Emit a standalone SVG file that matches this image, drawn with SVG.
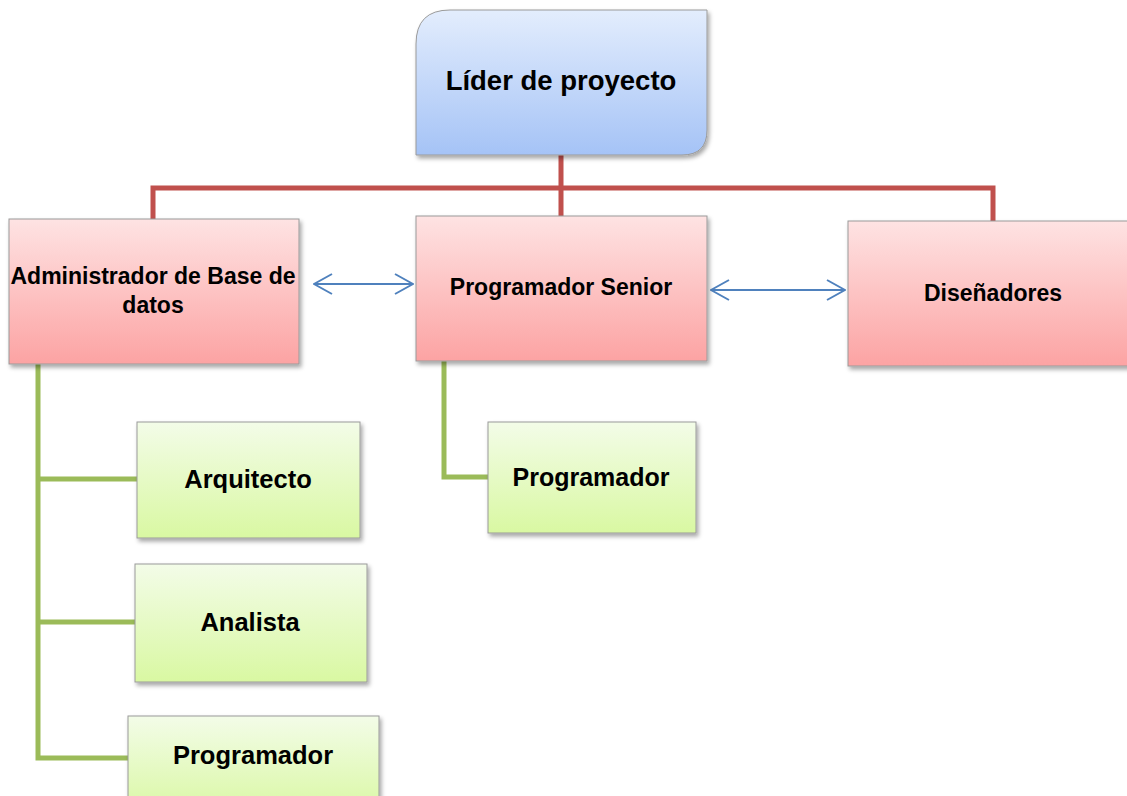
<svg xmlns="http://www.w3.org/2000/svg" width="1127" height="796" viewBox="0 0 1127 796">
<defs>
<linearGradient id="gBlue" x1="0" y1="0" x2="0" y2="1"><stop offset="0" stop-color="#e3edfd"/><stop offset="1" stop-color="#a5c3f6"/></linearGradient>
<linearGradient id="gRed" x1="0" y1="0" x2="0" y2="1"><stop offset="0" stop-color="#fee3e3"/><stop offset="1" stop-color="#fca3a3"/></linearGradient>
<linearGradient id="gGreen" x1="0" y1="0" x2="0" y2="1"><stop offset="0" stop-color="#f3fce8"/><stop offset="1" stop-color="#d9f8a2"/></linearGradient>
<filter id="sh" x="-10%" y="-10%" width="125%" height="130%"><feDropShadow dx="2" dy="3" stdDeviation="2" flood-color="#000" flood-opacity="0.35"/></filter>
<marker id="arr" viewBox="0 0 20 22" refX="19" refY="11" markerWidth="20" markerHeight="22" markerUnits="userSpaceOnUse" orient="auto-start-reverse"><polyline points="1,1 19,11 1,21" fill="none" stroke="#4f81bd" stroke-width="2"/></marker>
</defs>
<style>
.box{stroke:#9a9a9a;stroke-width:1;filter:url(#sh)}
.red{fill:url(#gRed)}
.green{fill:url(#gGreen)}
.t{font-family:"Liberation Sans",Arial,sans-serif;font-weight:bold;fill:#000;text-anchor:middle}
.rl{fill:none;stroke:#c0504d;stroke-width:5}
.gl{fill:none;stroke:#9bbb59;stroke-width:5}
.bl{fill:none;stroke:#4f81bd;stroke-width:2;marker-start:url(#arr);marker-end:url(#arr)}
</style>
<rect width="1127" height="796" fill="#fff"/>
<g id="connectors">
<path class="rl" d="M561,155 V188 M153,220 V188 H993 V221 M561,188 V216"/>
<path class="gl" d="M38,364 V758 H128 M38,479 H137 M38,622 H135"/>
<path class="gl" d="M444,361 V477 H488"/>
<line class="bl" x1="314" y1="284" x2="413" y2="284"/>
<line class="bl" x1="711" y1="290" x2="845" y2="290"/>
</g>
<g id="lider">
<path class="box" fill="url(#gBlue)" d="M450,10 H707 V130 Q707,155 682,155 H416 V44 Q416,10 450,10 Z"/>
<text class="t" x="561" y="90" font-size="27.5">Líder de proyecto</text>
</g>
<g id="admin">
<rect class="box red" x="9" y="219" width="290" height="145"/>
<text class="t" x="153" y="284" font-size="23">Administrador de Base de</text>
<text class="t" x="153" y="313" font-size="23">datos</text>
</g>
<g id="senior">
<rect class="box red" x="416" y="216" width="291" height="145"/>
<text class="t" x="561" y="295" font-size="23">Programador Senior</text>
</g>
<g id="disenadores">
<rect class="box red" x="848" y="221" width="285" height="145"/>
<text class="t" x="993" y="301" font-size="23">Diseñadores</text>
</g>
<g id="arquitecto">
<rect class="box green" x="137" y="422" width="223" height="116"/>
<text class="t" x="248" y="488" font-size="25.5">Arquitecto</text>
</g>
<g id="analista">
<rect class="box green" x="135" y="564" width="232" height="118"/>
<text class="t" x="250" y="631" font-size="25.5">Analista</text>
</g>
<g id="programador1">
<rect class="box green" x="128" y="716" width="251" height="100"/>
<text class="t" x="253" y="764" font-size="25.5">Programador</text>
</g>
<g id="programador2">
<rect class="box green" x="488" y="422" width="208" height="111"/>
<text class="t" x="591" y="486" font-size="25">Programador</text>
</g>
</svg>
